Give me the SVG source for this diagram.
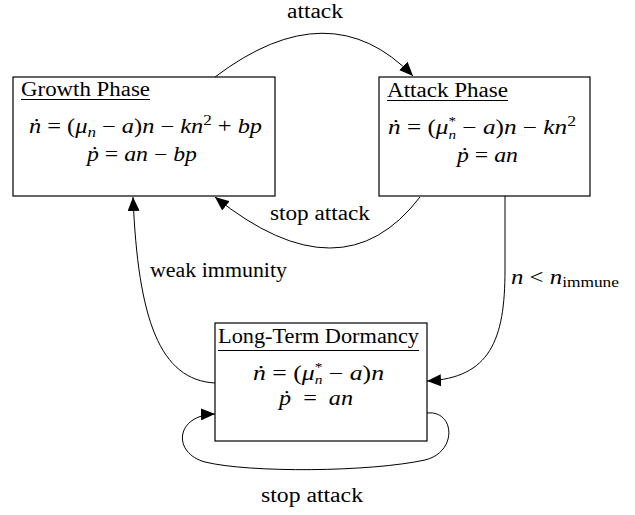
<svg xmlns="http://www.w3.org/2000/svg" width="635" height="515" viewBox="0 0 635 515">
<style>
text{font-family:"Liberation Serif","DejaVu Serif",serif;font-size:20px;fill:#000}
.m{font-style:italic}
.s{font-size:14px}
.sm{font-size:12px}
.box{fill:#fff;stroke:#000;stroke-width:1.2}
.ul{stroke:#000;stroke-width:1}
.c{fill:none;stroke:#000;stroke-width:1}
</style>
<defs>
<marker id="ah" markerUnits="userSpaceOnUse" markerWidth="16" markerHeight="12" refX="14" refY="6" orient="auto">
<path d="M0,0 L14,6 L0,12 Z" fill="#000"/>
</marker>
</defs>
<g id="connectors">
<path class="c" d="M215,77 Q330,-10 413,76" marker-end="url(#ah)"/>
<path class="c" d="M420,197 Q342,299 215,197" marker-end="url(#ah)"/>
<path class="c" d="M215,383 C160,380 138,320 133,197" marker-end="url(#ah)"/>
<path class="c" d="M505,196 L505,270 C505,340 490,378 427,381" marker-end="url(#ah)"/>
<path class="c" d="M427,413 C455,410 458,452 425,460 C370,472 250,473 205,462 C172,453 175,415 215,414" marker-end="url(#ah)"/>
<text x="287" y="18" textLength="56" lengthAdjust="spacingAndGlyphs">attack</text>
<text x="270" y="220" textLength="100" lengthAdjust="spacingAndGlyphs">stop attack</text>
<text x="150" y="277" textLength="137" lengthAdjust="spacingAndGlyphs">weak immunity</text>
<text x="511" y="284" textLength="108" lengthAdjust="spacingAndGlyphs"><tspan class="m">n</tspan> &lt; <tspan class="m">n</tspan><tspan class="s" dy="3">immune</tspan></text>
<text x="261" y="502" textLength="102" lengthAdjust="spacingAndGlyphs">stop attack</text>
</g>
<g id="growth">
<rect class="box" x="13" y="77" width="262" height="119"/>
<text x="21" y="96" textLength="129" lengthAdjust="spacingAndGlyphs">Growth Phase</text>
<line class="ul" x1="21" y1="99.5" x2="150" y2="99.5"/>
<text x="29" y="133" textLength="233" lengthAdjust="spacingAndGlyphs"><tspan class="m">ṅ</tspan> = (<tspan class="m">μ</tspan><tspan class="s m" dy="4">n</tspan><tspan dy="-4"> − </tspan><tspan class="m">a</tspan>)<tspan class="m">n</tspan> − <tspan class="m">kn</tspan><tspan class="s" dy="-8">2</tspan><tspan dy="8"> + </tspan><tspan class="m">bp</tspan></text>
<text x="87" y="161" textLength="110" lengthAdjust="spacingAndGlyphs"><tspan class="m">ṗ</tspan> = <tspan class="m">an</tspan> − <tspan class="m">bp</tspan></text>
</g>
<g id="attack">
<rect class="box" x="379" y="77" width="211" height="119"/>
<text x="387" y="97" textLength="121" lengthAdjust="spacingAndGlyphs">Attack Phase</text>
<line class="ul" x1="387" y1="100.5" x2="508" y2="100.5"/>
<text x="388" y="134" textLength="188" lengthAdjust="spacingAndGlyphs"><tspan class="m">ṅ</tspan> = (<tspan class="m">μ</tspan><tspan class="sm" dy="-9">*</tspan><tspan class="sm m" dx="-6" dy="14">n</tspan><tspan dy="-5"> − </tspan><tspan class="m">a</tspan>)<tspan class="m">n</tspan> − <tspan class="m">kn</tspan><tspan class="s" dy="-8">2</tspan></text>
<text x="457" y="162" textLength="61" lengthAdjust="spacingAndGlyphs"><tspan class="m">ṗ</tspan> = <tspan class="m">an</tspan></text>
</g>
<g id="dormancy">
<rect class="box" x="215" y="323" width="212" height="118"/>
<text x="218" y="343" textLength="201" lengthAdjust="spacingAndGlyphs">Long-Term Dormancy</text>
<line class="ul" x1="218" y1="350.5" x2="419" y2="350.5"/>
<text x="253" y="380" textLength="131" lengthAdjust="spacingAndGlyphs"><tspan class="m">ṅ</tspan> = (<tspan class="m">μ</tspan><tspan class="sm" dy="-9">*</tspan><tspan class="sm m" dx="-6" dy="13">n</tspan><tspan dy="-4"> − </tspan><tspan class="m">a</tspan>)<tspan class="m">n</tspan></text>
<text x="279" y="405" textLength="74" lengthAdjust="spacingAndGlyphs"><tspan class="m">ṗ</tspan><tspan dx="10">=</tspan><tspan class="m" dx="10">an</tspan></text>
</g>
</svg>
